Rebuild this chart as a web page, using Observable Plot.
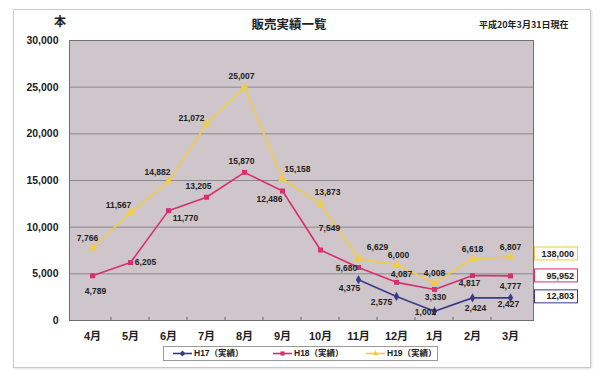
<!DOCTYPE html>
<html><head><meta charset="utf-8">
<script src="https://cdn.jsdelivr.net/npm/d3@7"></script>
<script src="https://cdn.jsdelivr.net/npm/@observablehq/plot@0.6"></script>
<style>
body{margin:0;background:#fff;}
#wrap{position:relative;width:600px;height:381px;overflow:hidden;font-family:"Liberation Sans",Arial,"Noto Sans CJK JP",sans-serif;color:#222;}
#frame{position:absolute;left:13px;top:9px;width:576px;height:357px;border:1px solid #c9c9c9;box-shadow:1px 1px 2px #e0e0e0;}
#chart{position:absolute;left:0;top:0;}
.t{position:absolute;white-space:nowrap;font-family:"Noto Sans CJK JP","Liberation Sans",sans-serif;font-weight:bold;}
#legend{position:absolute;left:163px;top:346px;width:273px;height:13px;border:1px solid #9a9a9a;background:#fff;font-family:"Liberation Sans","Noto Sans CJK JP",sans-serif;font-size:8.5px;font-weight:bold;}
.li{position:absolute;top:0;height:13px;line-height:13px;display:flex;align-items:center;}
.li svg{margin-right:2px;}
svg text{font-family:"Liberation Sans",Arial,"Noto Sans CJK JP",sans-serif;}
</style></head><body>
<div id="wrap">
  <div id="frame"></div>
  <div id="chart"></div>
</div>
<script>
// ---- data ----
const months = ["4月","5月","6月","7月","8月","9月","10月","11月","12月","1月","2月","3月"];
const h17 = [null,null,null,null,null,null,null,4375,2575,1002,2424,2427];
const h18 = [4789,6205,11770,13205,15870,13873,7549,5680,4087,3330,4817,4777];
const h19 = [7766,11567,14882,21072,25007,15158,12486,6629,6000,4008,6618,6807];
const seriesNames = ["H17（実績）","H18（実績）","H19（実績）"];
const totals = [12803, 95952, 138000];
const yTicks = [0,5000,10000,15000,20000,25000,30000];
const titleText = "販売実績一覧";
const unitText = "本";
const dateText = "平成20年3月31日現在";

// ---- styles / label placement (not data) ----
const colors = ["#3b3a8a","#d6306f","#f0cc48"];
const symbols = ["diamond","square","triangle"];
const labelOffsets = [
  [null,null,null,null,null,null,null,[-9,9],[-15,6],[-9,1],[3,10],[-2,6]],
  [[3,15],[15,0],[17,8],[-8,-11],[-3,-11],[45,1],[9,-22],[-12,1],[5,-8],[1,8],[-3,8],[0,10]],
  [[-5,-10],[-12,-7],[-11,-9],[-15,-6],[-3,-11],[15,-10],[-51,-5],[19,-11],[2,-9],[0,-10],[0,-9],[0,-10]]
];
const boxDy = [-1, 0, -3];

const seriesValues = [h17, h18, h19];
const rows = seriesValues.map((vals, s) =>
  months.map((m, i) => ({s, month: m, value: vals[i], off: labelOffsets[s][i]})).filter(d => d.value != null)
);
const fmt = d3.format(",");

const labelMarks = rows.flat().map(d =>
  Plot.text([d], {x: "month", y: "value", text: d => fmt(d.value), dx: d.off[0], dy: d.off[1],
    fontSize: 8.5, fontWeight: "bold", fill: "#222"})
);

function bottomTicks(index, scales, values, dim) {
  const g = d3.create("svg:g");
  const step = scales.x(months[1]) - scales.x(months[0]);
  const yb = dim.height - dim.marginBottom;
  months.forEach((m, i) => {
    if (i === 0) return;
    const x = scales.x(m) - step / 2;
    g.append("line").attr("x1", x).attr("x2", x).attr("y1", yb).attr("y2", yb - 3).attr("stroke", "#6f6f6f");
  });
  return g.node();
}

function totalBoxes(index, scales) {
  const g = d3.create("svg:g");
  const xEnd = scales.x(months[months.length - 1]);
  seriesValues.forEach((vals, s) => {
    const yc = scales.y(vals[vals.length - 1]) + boxDy[s];
    g.append("rect").attr("x", xEnd + 24.5).attr("y", yc - 6.5).attr("width", 43).attr("height", 13)
      .attr("fill", "#fbfbf7").attr("stroke", colors[s]).attr("stroke-width", 1);
    g.append("text").attr("x", xEnd + 64).attr("y", yc).attr("dy", "0.35em").attr("text-anchor", "end")
      .attr("font-size", 9).attr("font-weight", "bold").attr("fill", "#222").text(fmt(totals[s]));
  });
  return g.node();
}

const chart = Plot.plot({
  width: 600, height: 381,
  marginLeft: 69, marginRight: 67, marginTop: 40, marginBottom: 61,
  style: {background: "transparent", overflow: "visible"},
  x: {type: "point", domain: months, padding: 0.5},
  y: {domain: [0, 30000]},
  marks: [
    Plot.frame({fill: "#cec6ca"}),
    Plot.gridY(yTicks.filter(t => t > 0 && t < 30000), {stroke: "#8d888a", strokeOpacity: 1}),
    Plot.frame({stroke: "#707070"}),
    bottomTicks,
    Plot.axisY({ticks: yTicks, tickFormat: fmt, tickSize: 0, tickPadding: 11, fontSize: 10.5, fontWeight: "bold", label: null}),
    Plot.axisX({tickSize: 0, tickPadding: 12, fontSize: 11, fontWeight: "bold", label: null}),
    ...rows.map((r, s) => Plot.line(r, {x: "month", y: "value", stroke: colors[s], strokeWidth: 1.6})),
    ...rows.map((r, s) => Plot.dot(r, {x: "month", y: "value", symbol: symbols[s], fill: colors[s], r: s === 2 ? 3.2 : 2.8, stroke: "none"})),
    ...labelMarks,
    totalBoxes
  ]
});
document.getElementById("chart").appendChild(chart);

// ---- titles ----
const wrap = document.getElementById("wrap");
function addText(txt, left, top, size, extra) {
  const d = document.createElement("div");
  d.className = "t"; d.textContent = txt;
  d.style.left = left + "px"; d.style.top = top + "px"; d.style.fontSize = size + "px";
  if (extra) Object.assign(d.style, extra);
  wrap.appendChild(d); return d;
}
addText(unitText, 54, 12, 12);
addText(titleText, 289, 14, 12.5, {transform: "translateX(-50%)"});
addText(dateText, 479, 18, 9);

// ---- legend ----
const legend = document.createElement("div");
legend.id = "legend";
const legX = [9, 109, 202];
seriesNames.forEach((name, s) => {
  const it = document.createElement("div");
  it.className = "li"; it.style.left = legX[s] + "px";
  const sw = d3.create("svg").attr("width", 19).attr("height", 9);
  sw.append("line").attr("x1", 0).attr("x2", 19).attr("y1", 4.5).attr("y2", 4.5).attr("stroke", colors[s]).attr("stroke-width", 1.6);
  sw.append("path").attr("transform", "translate(9.5,4.5)").attr("fill", colors[s])
    .attr("d", d3.symbol(s === 0 ? d3.symbolDiamond2 : s === 1 ? d3.symbolSquare2 : d3.symbolTriangle2, 22)());
  it.appendChild(sw.node());
  const tx = document.createElement("span"); tx.textContent = name;
  it.appendChild(tx);
  legend.appendChild(it);
});
wrap.appendChild(legend);
</script>
</body></html>
